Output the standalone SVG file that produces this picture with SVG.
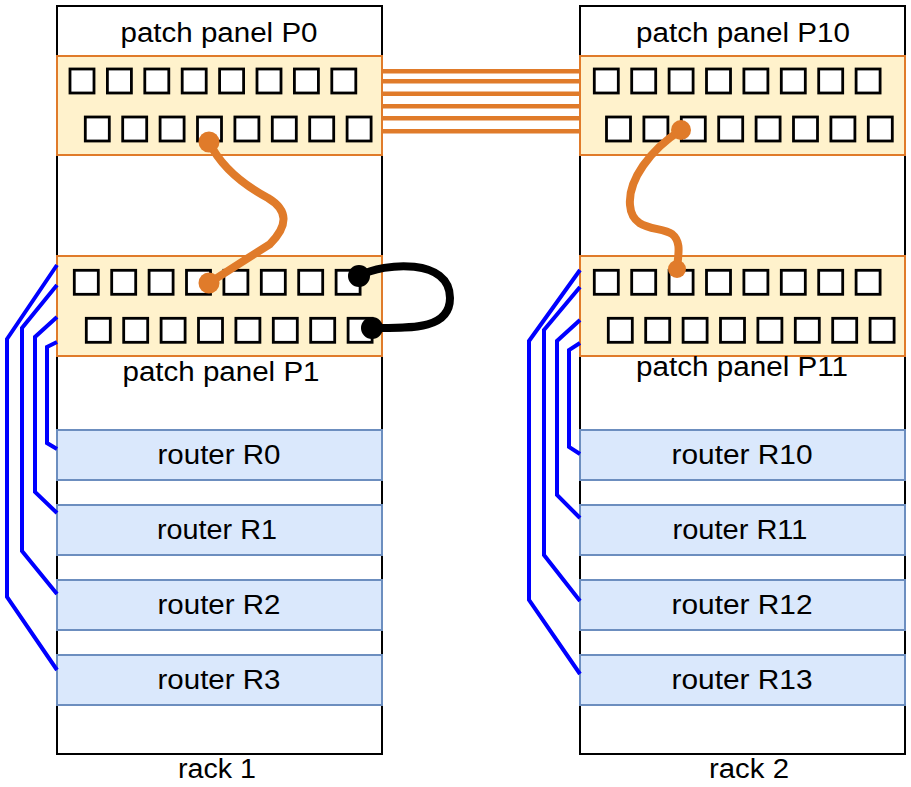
<svg xmlns="http://www.w3.org/2000/svg" width="911" height="787" viewBox="0 0 911 787">
<style>
.rack{fill:#ffffff;stroke:#000000;stroke-width:2}
.panel{fill:#fff2cc;stroke:#e07b2a;stroke-width:2}
.router{fill:#dae8fc;stroke:#6c8ebf;stroke-width:2}
.port{fill:#ffffff;stroke:#000000;stroke-width:2.8}
.lbl{font-family:"Liberation Sans",Arial,sans-serif;font-size:27px;fill:#000000;text-anchor:middle}
.trunk{fill:none;stroke:#e07b2a;stroke-width:4.5}
.patch{fill:none;stroke:#e07b2a;stroke-width:8;stroke-linecap:round}
.loop{fill:none;stroke:#000000;stroke-width:8;stroke-linecap:round}
.blue{fill:none;stroke:#0000ff;stroke-width:4;stroke-linejoin:miter}
</style>
<defs>
<rect id="sq" width="24" height="24" class="port"/>
</defs>
<rect width="911" height="787" fill="#ffffff"/>

<g id="rack1">
<rect class="rack" x="57" y="6" width="325" height="748"/>
<text class="lbl" x="217" y="778" textLength="78" lengthAdjust="spacingAndGlyphs">rack 1</text>
</g>
<g id="rack2">
<rect class="rack" x="580" y="6" width="325" height="748"/>
<text class="lbl" x="749" y="778" textLength="80" lengthAdjust="spacingAndGlyphs">rack 2</text>
</g>

<g id="p0">
<text class="lbl" x="219" y="42" textLength="197" lengthAdjust="spacingAndGlyphs">patch panel P0</text>
<rect class="panel" x="57" y="56" width="325" height="99"/>
<use href="#sq" x="70" y="69"/><use href="#sq" x="107.4" y="69"/><use href="#sq" x="144.8" y="69"/><use href="#sq" x="182.2" y="69"/><use href="#sq" x="219.6" y="69"/><use href="#sq" x="257" y="69"/><use href="#sq" x="294.4" y="69"/><use href="#sq" x="331.8" y="69"/>
<use href="#sq" x="85.3" y="117"/><use href="#sq" x="122.7" y="117"/><use href="#sq" x="160.1" y="117"/><use href="#sq" x="197.5" y="117"/><use href="#sq" x="234.9" y="117"/><use href="#sq" x="272.3" y="117"/><use href="#sq" x="309.7" y="117"/><use href="#sq" x="347.1" y="117"/>
</g>

<g id="p10">
<text class="lbl" x="743" y="42" textLength="214" lengthAdjust="spacingAndGlyphs">patch panel P10</text>
<rect class="panel" x="580" y="56" width="325" height="99"/>
<use href="#sq" x="594.3" y="69"/><use href="#sq" x="631.7" y="69"/><use href="#sq" x="669.1" y="69"/><use href="#sq" x="706.5" y="69"/><use href="#sq" x="743.9" y="69"/><use href="#sq" x="781.3" y="69"/><use href="#sq" x="818.7" y="69"/><use href="#sq" x="856.1" y="69"/>
<use href="#sq" x="606.5" y="117"/><use href="#sq" x="643.9" y="117"/><use href="#sq" x="681.3" y="117"/><use href="#sq" x="718.7" y="117"/><use href="#sq" x="756.1" y="117"/><use href="#sq" x="793.5" y="117"/><use href="#sq" x="830.9" y="117"/><use href="#sq" x="868.3" y="117"/>
</g>

<g id="p1">
<rect class="panel" x="57" y="256" width="325" height="100"/>
<use href="#sq" x="74.3" y="270.3"/><use href="#sq" x="111.7" y="270.3"/><use href="#sq" x="149.1" y="270.3"/><use href="#sq" x="186.5" y="270.3"/><use href="#sq" x="223.9" y="270.3"/><use href="#sq" x="261.3" y="270.3"/><use href="#sq" x="298.7" y="270.3"/><use href="#sq" x="336.1" y="270.3"/>
<use href="#sq" x="86.3" y="318.3"/><use href="#sq" x="123.7" y="318.3"/><use href="#sq" x="161.1" y="318.3"/><use href="#sq" x="198.5" y="318.3"/><use href="#sq" x="235.9" y="318.3"/><use href="#sq" x="273.3" y="318.3"/><use href="#sq" x="310.7" y="318.3"/><use href="#sq" x="348.1" y="318.3"/>
<text class="lbl" x="221" y="381" textLength="197" lengthAdjust="spacingAndGlyphs">patch panel P1</text>
</g>

<g id="p11">
<rect class="panel" x="580" y="256" width="325" height="100"/>
<use href="#sq" x="594.3" y="270.3"/><use href="#sq" x="631.7" y="270.3"/><use href="#sq" x="669.1" y="270.3"/><use href="#sq" x="706.5" y="270.3"/><use href="#sq" x="743.9" y="270.3"/><use href="#sq" x="781.3" y="270.3"/><use href="#sq" x="818.7" y="270.3"/><use href="#sq" x="856.1" y="270.3"/>
<use href="#sq" x="608.3" y="318.3"/><use href="#sq" x="645.7" y="318.3"/><use href="#sq" x="683.1" y="318.3"/><use href="#sq" x="720.5" y="318.3"/><use href="#sq" x="757.9" y="318.3"/><use href="#sq" x="795.3" y="318.3"/><use href="#sq" x="832.7" y="318.3"/><use href="#sq" x="870.1" y="318.3"/>
<text class="lbl" x="742" y="376" textLength="212" lengthAdjust="spacingAndGlyphs">patch panel P11</text>
</g>

<g id="r0"><rect class="router" x="57" y="430" width="325" height="50"/><text class="lbl" x="219" y="464" textLength="123" lengthAdjust="spacingAndGlyphs">router R0</text></g>
<g id="r1"><rect class="router" x="57" y="505" width="325" height="50"/><text class="lbl" x="217" y="539" textLength="120" lengthAdjust="spacingAndGlyphs">router R1</text></g>
<g id="r2"><rect class="router" x="57" y="580" width="325" height="50"/><text class="lbl" x="219" y="614" textLength="123" lengthAdjust="spacingAndGlyphs">router R2</text></g>
<g id="r3"><rect class="router" x="57" y="655" width="325" height="50"/><text class="lbl" x="219" y="689" textLength="123" lengthAdjust="spacingAndGlyphs">router R3</text></g>

<g id="r10"><rect class="router" x="580" y="430" width="325" height="50"/><text class="lbl" x="742" y="464" textLength="141" lengthAdjust="spacingAndGlyphs">router R10</text></g>
<g id="r11"><rect class="router" x="580" y="505" width="325" height="50"/><text class="lbl" x="740" y="539" textLength="135" lengthAdjust="spacingAndGlyphs">router R11</text></g>
<g id="r12"><rect class="router" x="580" y="580" width="325" height="50"/><text class="lbl" x="742" y="614" textLength="141" lengthAdjust="spacingAndGlyphs">router R12</text></g>
<g id="r13"><rect class="router" x="580" y="655" width="325" height="50"/><text class="lbl" x="742" y="689" textLength="141" lengthAdjust="spacingAndGlyphs">router R13</text></g>

<g id="connectors">
<line class="trunk" x1="382" y1="71.3" x2="580" y2="71.3"/>
<line class="trunk" x1="382" y1="81.3" x2="580" y2="81.3"/>
<line class="trunk" x1="382" y1="93.7" x2="580" y2="93.7"/>
<line class="trunk" x1="382" y1="106.3" x2="580" y2="106.3"/>
<line class="trunk" x1="382" y1="118.3" x2="580" y2="118.3"/>
<line class="trunk" x1="382" y1="131.3" x2="580" y2="131.3"/>

<path class="patch" d="M209,142 Q225,175 268,198 Q298,216 270,244 L209,283"/>
<circle cx="209" cy="142" r="10.5" fill="#e07b2a"/>
<circle cx="209" cy="283" r="10.5" fill="#e07b2a"/>

<path class="patch" d="M681,130 C650,150 628,180 630,205 C632,232 660,226 672,234 C682,242 678,255 677,269"/>
<circle cx="681" cy="130" r="10" fill="#e07b2a"/>
<circle cx="677" cy="269" r="9" fill="#e07b2a"/>

<path class="loop" d="M359,276 C385,262 450,258 450,298 C450,330 410,328 372,328"/>
<circle cx="359" cy="276" r="11" fill="#000000"/>
<circle cx="372" cy="328" r="11" fill="#000000"/>

<polyline class="blue" points="57,265 7,339 7,597 57,670"/>
<polyline class="blue" points="57,285 22,328 22,551 57,594"/>
<polyline class="blue" points="57,317 35,337 35,492 57,513"/>
<polyline class="blue" points="57,342 47,347 47,443 57,449"/>

<polyline class="blue" points="580,270 529,341 529,600 580,674"/>
<polyline class="blue" points="580,287 544,330 544,555 580,601"/>
<polyline class="blue" points="580,320 557,341 557,495 580,518"/>
<polyline class="blue" points="580,343 569,350 569,447 580,454"/>
</g>
</svg>
